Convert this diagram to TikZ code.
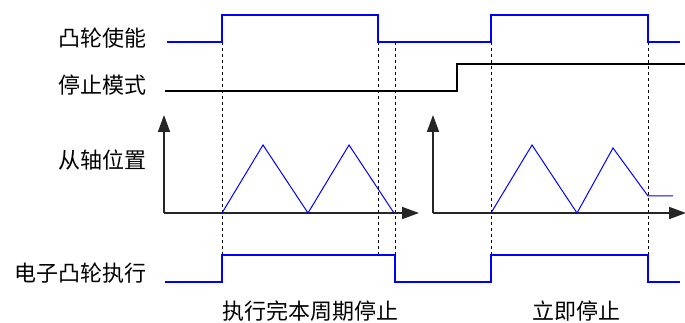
\documentclass[tikz,border=0pt]{standalone}
\usepackage{fontspec}
\newfontfamily\cjk{Noto Sans CJK SC}
\usetikzlibrary{arrows.meta}
\tikzset{
  sig/.style={blue, line width=1.3pt},
  mode/.style={black, line width=1.2pt},
  axis/.style={black!85, line width=1.8pt, -{Triangle[length=17pt,width=12pt]}},
  guide/.style={black, line width=0.8pt, dash pattern=on 3pt off 3pt},
  lbl/.style={font=\cjk\fontsize{22}{22}\selectfont, inner sep=0pt},
}
\begin{document}
\begin{tikzpicture}[x=1pt,y=-1pt]
\useasboundingbox (0,0) rectangle (685,323);
% labels
\node[lbl, anchor=east] (l1) at (147,38) {凸轮使能};
\node[lbl, anchor=east] (l2) at (147,85) {停止模式};
\node[lbl, anchor=east] (l3) at (147,160) {从轴位置};
\node[lbl, anchor=east] (l4) at (147,273) {电子凸轮执行};
\node[lbl] (b1) at (310,311) {执行完本周期停止};
\node[lbl] (b2) at (576,311) {立即停止};
% guides
\foreach \x in {222,378,395,491,648}
  \draw[guide] (\x,42) -- (\x,255);
% cam enable
\draw[sig] (167,42) -- (222,42) -- (222,15) -- (378,15) -- (378,42) -- (491,42) -- (491,15) -- (648,15) -- (648,42) -- (680,42);
% stop mode
\draw[mode] (165,91) -- (457,91) -- (457,64) -- (685,64);
% axes
\coordinate (o1) at (164,213);
\coordinate (o2) at (433,213);
\draw[axis] (o1) -- (164,115);
\draw[axis] (o1) -- (419,213);
\draw[axis] (o2) -- (433,115);
\draw[axis] (o2) -- (686,213);
% slave position
\draw[sig, line width=1pt] (222,213) -- (263,145) -- (308,213) -- (349,145) -- (394,213);
\draw[sig, line width=1pt] (491,213) -- (532,145) -- (577,213) -- (613,148) -- (648,196) -- (673,196);
% execution
\draw[sig] (165,282) -- (222,282) -- (222,255) -- (395,255) -- (395,282) -- (491,282) -- (491,255) -- (648,255) -- (648,282) -- (680,282);
\end{tikzpicture}
\end{document}
